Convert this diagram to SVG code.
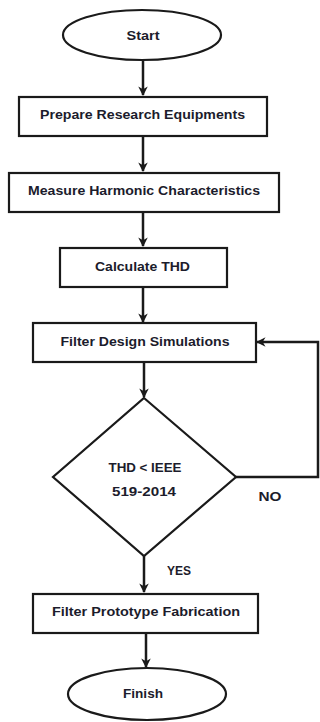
<svg xmlns="http://www.w3.org/2000/svg" width="320" height="722" viewBox="0 0 320 722">
<defs>
<style>
.s{fill:#fff;stroke:#1a1a1a;stroke-width:2.2}
.t{font-family:"Liberation Sans",Arial,sans-serif;font-weight:bold;font-size:12px;fill:#1c1c2c;text-anchor:middle;dominant-baseline:central}
.c{fill:none;stroke:#1a1a1a;stroke-width:2.5}
</style>
<marker id="ah" viewBox="0 0 10 10" refX="9" refY="5" markerWidth="3.8" markerHeight="3.8" orient="auto" markerUnits="strokeWidth">
<path d="M0,0 L10,5 L0,10 L3,5 Z" fill="#1a1a1a"/>
</marker>
</defs>
<rect width="320" height="722" fill="#fff"/>
<g id="connectors">
<line class="c" x1="143" y1="60" x2="143" y2="95" marker-end="url(#ah)"/>
<line class="c" x1="143" y1="136" x2="143" y2="171" marker-end="url(#ah)"/>
<line class="c" x1="143" y1="212" x2="143" y2="246" marker-end="url(#ah)"/>
<line class="c" x1="143" y1="287" x2="143" y2="322" marker-end="url(#ah)"/>
<line class="c" x1="144" y1="362" x2="144" y2="397" marker-end="url(#ah)"/>
<polyline class="c" points="236,477 318,477 318,342 257,342" marker-end="url(#ah)"/>
<line class="c" x1="144" y1="555" x2="144" y2="592" marker-end="url(#ah)"/>
<line class="c" x1="146" y1="633" x2="146" y2="667" marker-end="url(#ah)"/>
<text class="t" x="270" y="497" textLength="23" lengthAdjust="spacingAndGlyphs">NO</text>
<text class="t" x="179" y="571" textLength="24" lengthAdjust="spacingAndGlyphs">YES</text>
</g>
<g id="start">
<ellipse class="s" cx="142" cy="35" rx="79" ry="25"/>
<text class="t" x="143" y="36" textLength="33" lengthAdjust="spacingAndGlyphs">Start</text>
</g>
<g id="prepare">
<rect class="s" x="19" y="97" width="248" height="39"/>
<text class="t" x="142.5" y="115" textLength="205" lengthAdjust="spacingAndGlyphs">Prepare Research Equipments</text>
</g>
<g id="measure">
<rect class="s" x="9" y="173" width="270" height="39"/>
<text class="t" x="144" y="191" textLength="232" lengthAdjust="spacingAndGlyphs">Measure Harmonic Characteristics</text>
</g>
<g id="calculate">
<rect class="s" x="60" y="248" width="167" height="39"/>
<text class="t" x="142.5" y="267" textLength="95" lengthAdjust="spacingAndGlyphs">Calculate THD</text>
</g>
<g id="filterdesign">
<rect class="s" x="33" y="323" width="223" height="39"/>
<text class="t" x="145" y="342" textLength="169" lengthAdjust="spacingAndGlyphs">Filter Design Simulations</text>
</g>
<g id="decision">
<polygon class="s" points="144,398 236,477 144,556 53,477"/>
<text class="t" x="145" y="468" textLength="73" lengthAdjust="spacingAndGlyphs">THD &lt; IEEE</text>
<text class="t" x="144" y="492" textLength="64" lengthAdjust="spacingAndGlyphs">519-2014</text>
</g>
<g id="prototype">
<rect class="s" x="33" y="594" width="225" height="39"/>
<text class="t" x="146" y="612" textLength="188" lengthAdjust="spacingAndGlyphs">Filter Prototype Fabrication</text>
</g>
<g id="finish">
<ellipse class="s" cx="147" cy="694" rx="79" ry="26"/>
<text class="t" x="143" y="694" textLength="40" lengthAdjust="spacingAndGlyphs">Finish</text>
</g>
</svg>
